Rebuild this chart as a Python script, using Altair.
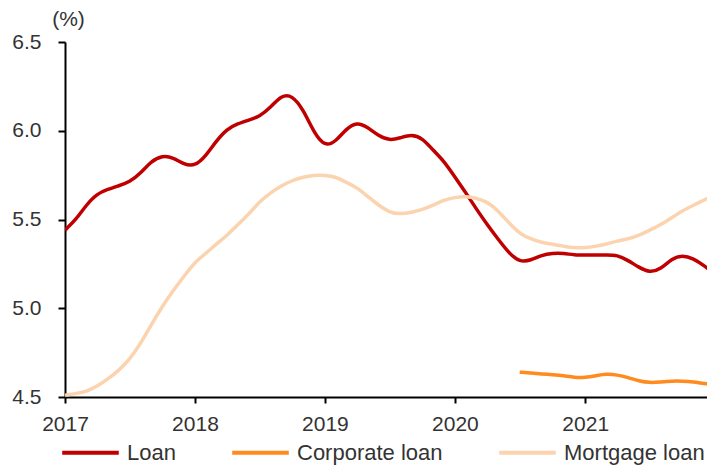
import altair as alt
import pandas as pd

months = [f"{2017 + i // 12}-{i % 12 + 1:02d}-01" for i in range(61)]

loan = [5.44, 5.50, 5.58, 5.645, 5.67, 5.69, 5.71, 5.76, 5.83, 5.86, 5.85, 5.81,
        5.80, 5.86, 5.94, 6.01, 6.04, 6.06, 6.08, 6.13, 6.20, 6.20, 6.12, 5.99,
        5.91, 5.94, 6.01, 6.05, 6.02, 5.97, 5.945, 5.96, 5.98, 5.96, 5.89, 5.83,
        5.74, 5.65, 5.56, 5.47, 5.39, 5.31, 5.26, 5.27, 5.30, 5.31, 5.31, 5.30,
        5.30, 5.30, 5.30, 5.30, 5.27, 5.23, 5.20, 5.22, 5.28, 5.30, 5.28, 5.24,
        5.19]

mortgage = [4.51, 4.52, 4.53, 4.56, 4.60, 4.65, 4.71, 4.80, 4.91, 5.01, 5.10, 5.18,
            5.26, 5.31, 5.36, 5.41, 5.47, 5.53, 5.60, 5.65, 5.69, 5.72, 5.74, 5.75,
            5.75, 5.74, 5.71, 5.68, 5.63, 5.58, 5.54, 5.53, 5.54, 5.555, 5.58, 5.61,
            5.625, 5.63, 5.62, 5.60, 5.55, 5.48, 5.42, 5.39, 5.37, 5.36, 5.35, 5.34,
            5.34, 5.35, 5.36, 5.38, 5.39, 5.41, 5.44, 5.47, 5.51, 5.55, 5.58, 5.61,
            5.64]

corporate_start = 42  # July 2020
corporate = [4.64, 4.635, 4.63, 4.625, 4.62, 4.61, 4.61, 4.62, 4.63, 4.625,
             4.61, 4.59, 4.58, 4.585, 4.59, 4.59, 4.585, 4.575, 4.57]

series_names = ["Loan", "Corporate loan", "Mortgage loan"]
series_colors = ["#C00000", "#FF8A1E", "#FBD3AF"]

rows = []
for d, v in zip(months, loan):
    rows.append({"date": d, "value": v, "series": "Loan"})
for d, v in zip(months[corporate_start:], corporate):
    rows.append({"date": d, "value": v, "series": "Corporate loan"})
for d, v in zip(months, mortgage):
    rows.append({"date": d, "value": v, "series": "Mortgage loan"})
df = pd.DataFrame(rows)

FONT = "Liberation Sans"
year_ticks = [alt.DateTime(year=y, month=1, date=1, utc=True) for y in range(2017, 2022)]

chart = alt.Chart(df).mark_line(strokeWidth=3.5, interpolate="basis", clip=True).encode(
    x=alt.X("date:T",
            scale=alt.Scale(type="utc",
                            domain=[alt.DateTime(year=2017, month=1, date=1, utc=True),
                                    alt.DateTime(year=2021, month=12, date=9, utc=True)]),
            axis=alt.Axis(values=year_ticks, format="%Y", title=None, grid=False,
                          domainColor="black", domainWidth=2, tickColor="black",
                          tickWidth=2, tickSize=6, labelFont=FONT, labelFontSize=21,
                          labelColor="#333333", labelPadding=10, labelFlush=False)),
    y=alt.Y("value:Q",
            scale=alt.Scale(domain=[4.5, 6.5], nice=False, zero=False),
            axis=alt.Axis(values=[4.5, 5.0, 5.5, 6.0, 6.5], format=".1f", title="(%)",
                          titleAngle=0, titleX=3, titleY=-13, titleAlign="center",
                          titleBaseline="bottom", titleFont=FONT, titleFontSize=21,
                          titleFontWeight="normal", titleColor="#333333",
                          grid=False, domainColor="black", domainWidth=2,
                          tickColor="black", tickWidth=2, tickSize=7,
                          labelFont=FONT, labelFontSize=21, labelColor="#333333",
                          labelPadding=17, labelFlush=False)),
    color=alt.Color("series:N",
                    scale=alt.Scale(domain=series_names, range=series_colors),
                    sort=series_names,
                    legend=alt.Legend(orient="none", legendX=-5, legendY=380,
                                      direction="horizontal", title=None,
                                      symbolType="stroke", symbolSize=3200,
                                      symbolStrokeWidth=4, columnPadding=48,
                                      labelFont=FONT, labelFontSize=22,
                                      labelColor="#333333", labelOffset=6)),
    order=alt.Order("series:N"),
).properties(
    width=642, height=355,
    autosize=alt.AutoSizeParams(type="none"),
    padding={"left": 57, "top": 34, "right": 0, "bottom": 69},
).configure_view(stroke=None)

chart.save("out.html", embed_options={"renderer": "svg", "actions": False})
